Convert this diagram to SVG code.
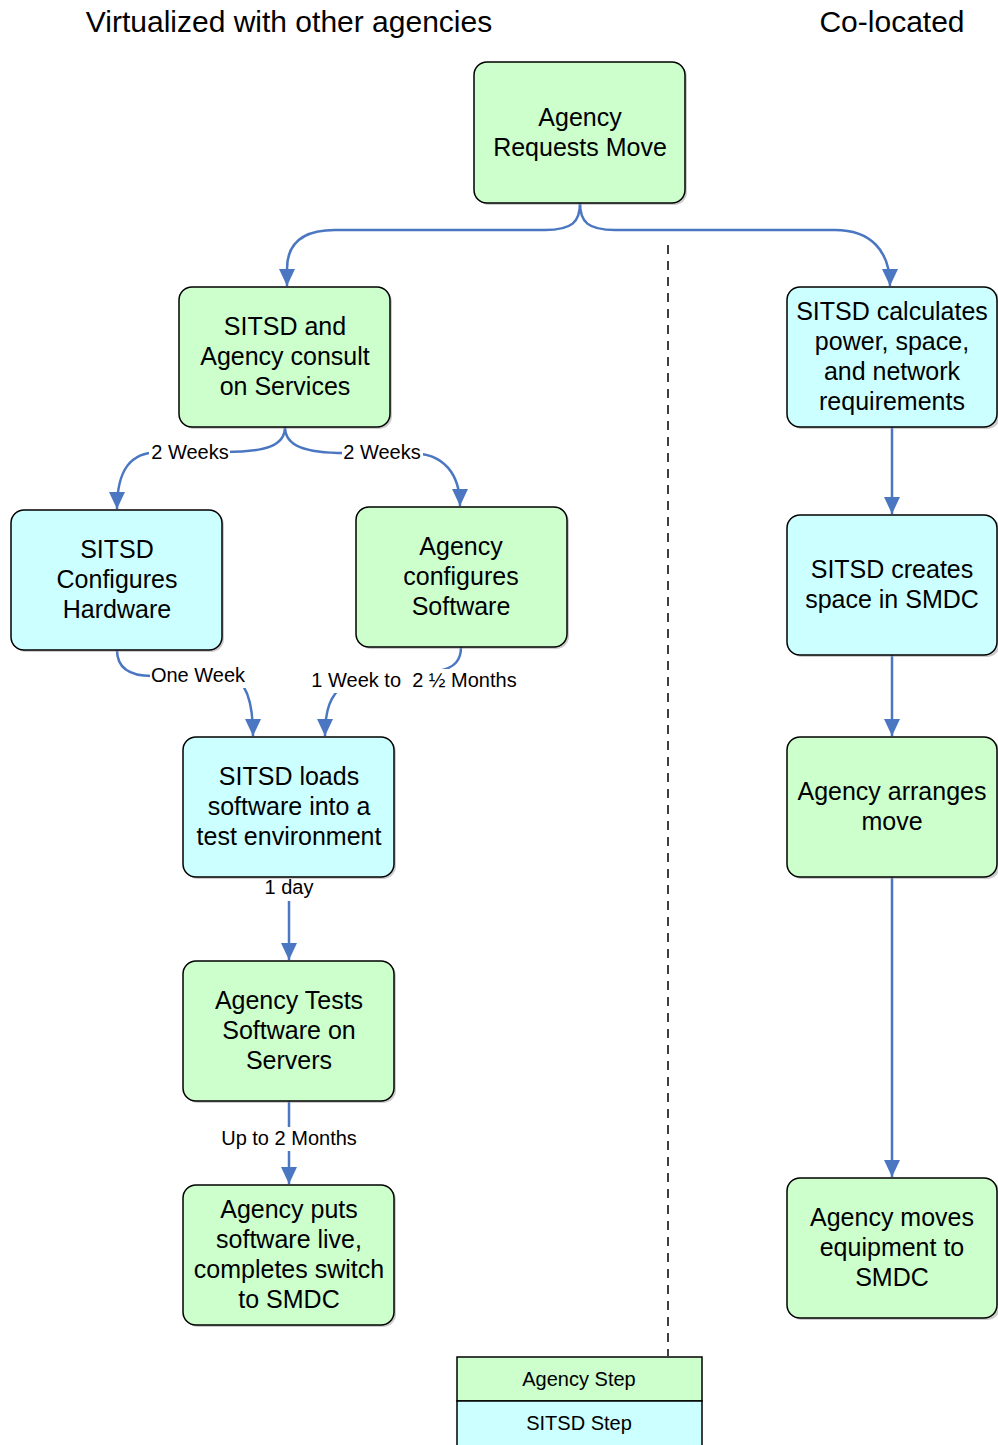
<svg xmlns="http://www.w3.org/2000/svg" width="998" height="1445" viewBox="0 0 998 1445">
<style>
text{font-family:"Liberation Sans",Arial,sans-serif;fill:#000}
.nt{font-size:25px;text-anchor:middle}
.lb{font-size:20px;text-anchor:middle}
.tt{font-size:30px;text-anchor:middle}
.lg{font-size:20px;text-anchor:middle}
.g{fill:#ccffcc;stroke:#000;stroke-width:1.5}
.c{fill:#ccffff;stroke:#000;stroke-width:1.5}
.sh{fill:#999;opacity:0.5}
.e{fill:none;stroke:#4a76c2;stroke-width:2.5}
.bg{fill:#fff}
</style>
<defs>
<marker id="a" viewBox="0 0 17 16" refX="17" refY="8" markerWidth="17" markerHeight="16" markerUnits="userSpaceOnUse" orient="auto">
<path d="M0,0 L17,8 L0,16 Z" fill="#4a76c2"/>
</marker>
</defs>
<text class="tt" x="289" y="32">Virtualized with other agencies</text>
<text class="tt" x="892" y="32">Co-located</text>
<line x1="668" y1="245" x2="668" y2="1356" stroke="#000" stroke-width="1.5" stroke-dasharray="9,7"/>
<g id="connectors">
<path class="e" marker-end="url(#a)" d="M580,203 C580,222 572,230 545,230 L335,230 C300,230 287,245 287,269 L287,286"/>
<path class="e" marker-end="url(#a)" d="M580,203 C580,222 588,230 615,230 L835,230 C870,230 890,250 890,286"/>
<path class="e" marker-end="url(#a)" d="M285,427 C285,446 265,452 225,452 L160,452 C130,452 117,470 117,509"/>
<path class="e" marker-end="url(#a)" d="M285,427 C285,446 305,453 345,453 L410,453 C445,453 460,475 460,506"/>
<path class="e" marker-end="url(#a)" d="M117,650 C117,668 130,676 152,676 L230,676 C245,680 253,700 253,736"/>
<path class="e" marker-end="url(#a)" d="M461,647 C461,660 455,668 438,671 L345,684 C330,695 325,710 325,736"/>
<path class="e" marker-end="url(#a)" d="M289,877 L289,960"/>
<path class="e" marker-end="url(#a)" d="M289,1101 L289,1184"/>
<path class="e" marker-end="url(#a)" d="M892,427 L892,514"/>
<path class="e" marker-end="url(#a)" d="M892,655 L892,736"/>
<path class="e" marker-end="url(#a)" d="M892,877 L892,1177"/>
<rect class="bg" x="149" y="441" width="81" height="24"/>
<text class="lb" x="190" y="459">2 Weeks</text>
<rect class="bg" x="342" y="441" width="81" height="24"/>
<text class="lb" x="382" y="459">2 Weeks</text>
<rect class="bg" x="150" y="664" width="96" height="24"/>
<text class="lb" x="198" y="682">One Week</text>
<rect class="bg" x="312" y="669" width="205" height="24"/>
<text class="lb" x="414" y="687" xml:space="preserve">1 Week to  2 ½ Months</text>
<rect class="bg" x="262" y="877" width="54" height="24"/>
<text class="lb" x="289" y="894">1 day</text>
<rect class="bg" x="219" y="1127" width="140" height="24"/>
<text class="lb" x="289" y="1145">Up to 2 Months</text>
</g>
<g id="n1"><rect class="sh" x="476" y="64" width="211" height="141" rx="13"/><rect class="g" x="474" y="62" width="211" height="141" rx="13"/><text class="nt" x="580" y="126">Agency</text><text class="nt" x="580" y="156">Requests Move</text></g>
<g id="n2"><rect class="sh" x="181" y="289" width="211" height="140" rx="13"/><rect class="g" x="179" y="287" width="211" height="140" rx="13"/><text class="nt" x="285" y="335">SITSD and</text><text class="nt" x="285" y="365">Agency consult</text><text class="nt" x="285" y="395">on Services</text></g>
<g id="n3"><rect class="sh" x="789" y="289" width="211" height="140" rx="13"/><rect class="c" x="787" y="287" width="210" height="140" rx="13"/><text class="nt" x="892" y="320">SITSD calculates</text><text class="nt" x="892" y="350">power, space,</text><text class="nt" x="892" y="380">and network</text><text class="nt" x="892" y="410">requirements</text></g>
<g id="n4"><rect class="sh" x="13" y="512" width="211" height="140" rx="13"/><rect class="c" x="11" y="510" width="211" height="140" rx="13"/><text class="nt" x="117" y="558">SITSD</text><text class="nt" x="117" y="588">Configures</text><text class="nt" x="117" y="618">Hardware</text></g>
<g id="n5"><rect class="sh" x="358" y="509" width="211" height="140" rx="13"/><rect class="g" x="356" y="507" width="211" height="140" rx="13"/><text class="nt" x="461" y="555">Agency</text><text class="nt" x="461" y="585">configures</text><text class="nt" x="461" y="615">Software</text></g>
<g id="n6"><rect class="sh" x="185" y="739" width="211" height="140" rx="13"/><rect class="c" x="183" y="737" width="211" height="140" rx="13"/><text class="nt" x="289" y="785">SITSD loads</text><text class="nt" x="289" y="815">software into a</text><text class="nt" x="289" y="845">test environment</text></g>
<g id="n7"><rect class="sh" x="185" y="963" width="211" height="140" rx="13"/><rect class="g" x="183" y="961" width="211" height="140" rx="13"/><text class="nt" x="289" y="1009">Agency Tests</text><text class="nt" x="289" y="1039">Software on</text><text class="nt" x="289" y="1069">Servers</text></g>
<g id="n8"><rect class="sh" x="185" y="1187" width="211" height="140" rx="13"/><rect class="g" x="183" y="1185" width="211" height="140" rx="13"/><text class="nt" x="289" y="1218">Agency puts</text><text class="nt" x="289" y="1248">software live,</text><text class="nt" x="289" y="1278">completes switch</text><text class="nt" x="289" y="1308">to SMDC</text></g>
<g id="n9"><rect class="sh" x="789" y="517" width="211" height="140" rx="13"/><rect class="c" x="787" y="515" width="210" height="140" rx="13"/><text class="nt" x="892" y="578">SITSD creates</text><text class="nt" x="892" y="608">space in SMDC</text></g>
<g id="n10"><rect class="sh" x="789" y="739" width="211" height="140" rx="13"/><rect class="g" x="787" y="737" width="210" height="140" rx="13"/><text class="nt" x="892" y="800">Agency arranges</text><text class="nt" x="892" y="830">move</text></g>
<g id="n11"><rect class="sh" x="789" y="1180" width="211" height="140" rx="13"/><rect class="g" x="787" y="1178" width="210" height="140" rx="13"/><text class="nt" x="892" y="1226">Agency moves</text><text class="nt" x="892" y="1256">equipment to</text><text class="nt" x="892" y="1286">SMDC</text></g>
<g id="legend">
<rect x="457" y="1357" width="245" height="44" fill="#ccffcc" stroke="#000" stroke-width="1.5"/>
<rect x="457" y="1401" width="245" height="46" fill="#ccffff" stroke="#000" stroke-width="1.5"/>
<text class="lg" x="579" y="1386">Agency Step</text>
<text class="lg" x="579" y="1430">SITSD Step</text>
</g>
</svg>
